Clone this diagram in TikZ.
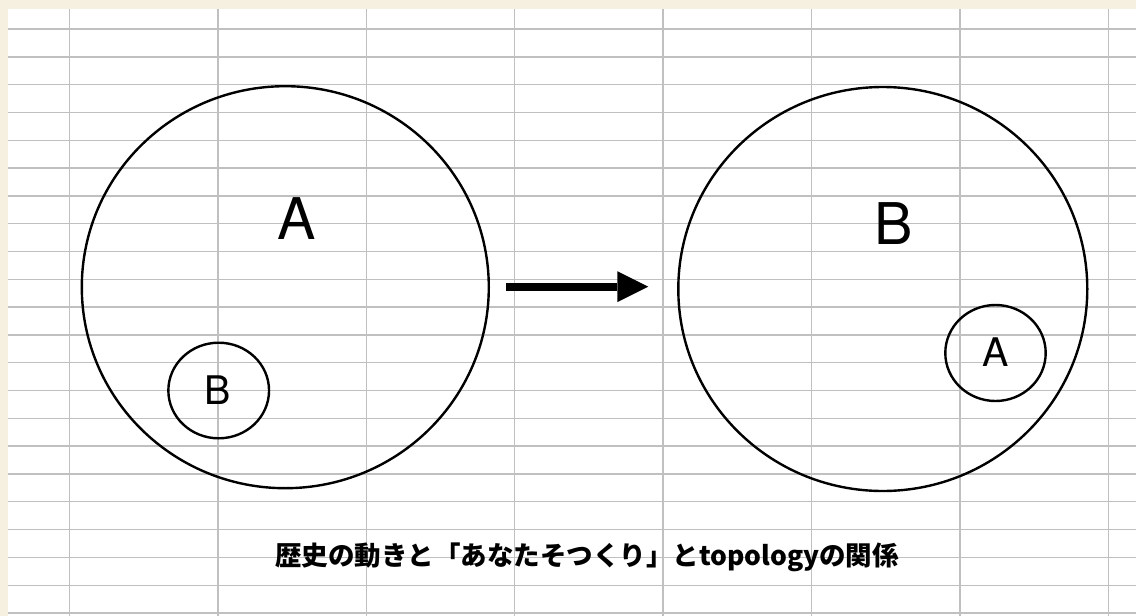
\documentclass[tikz,border=0pt]{standalone}
\usepackage{fontspec}
\setmainfont{TeX Gyre Heros}
\newfontfamily\cjk{Noto Sans CJK JP}
\usetikzlibrary{shapes.geometric,arrows.meta}
\definecolor{cream}{RGB}{246,240,224}
\definecolor{gridgray}{RGB}{192,192,192}
\tikzset{
  gridline/.style={draw=gridgray, line width=1.4pt},
  setc/.style={ellipse, draw=black, line width=2.4pt, inner sep=0pt},
  biglbl/.style={inner sep=0pt, font=\fontsize{57.5}{60}\selectfont},
  smalllbl/.style={inner sep=0pt, font=\fontsize{39.4}{42}\selectfont},
  caption/.style={inner sep=0pt, font=\cjk\bfseries\fontsize{26.5}{30}\selectfont},
  bigarrow/.style={line width=8pt, -{Triangle[length=31pt,width=31pt,line width=0pt]}}
}
\begin{document}
\begin{tikzpicture}[x=1pt,y=-1pt]
\useasboundingbox (0,0) rectangle (1136,616);
\fill[cream] (0,0) rectangle (1136,616);
\fill[white] (8,9) rectangle (1136,616);
\foreach \k in {0,...,21} \draw[gridline] (8,29+27.81*\k) -- (1136,29+27.81*\k);
\foreach \k in {0,...,7} \draw[gridline] (69.5+148.4*\k,9) -- (69.5+148.4*\k,616);

% left diagram
\node[setc, minimum width=407pt, minimum height=402pt] (LA) at (285.3,287.2) {};
\node[setc, minimum width=100.7pt, minimum height=95.6pt] (LB) at (218.7,390.5) {};
\node[biglbl] (tLA) at (296.7,218.3) {A};
\node[smalllbl] (tLB) at (218,390.2) {B};

% right diagram
\node[setc, minimum width=409pt, minimum height=404pt] (RB) at (882.8,289) {};
\node[setc, minimum width=100.4pt, minimum height=96pt] (RA) at (995.5,353) {};
\node[biglbl] (tRB) at (894,223.8) {B};
\node[smalllbl] (tRA) at (995.5,352.5) {A};

% arrow
\coordinate (as) at (506,286.7);
\coordinate (ae) at (648.3,286.7);
\draw[bigarrow] (as) -- (ae);

% caption
\node[caption] (cap) at (587,557) {歴史の動きと「あなたそつくり」とtopologyの関係};
\end{tikzpicture}
\end{document}
